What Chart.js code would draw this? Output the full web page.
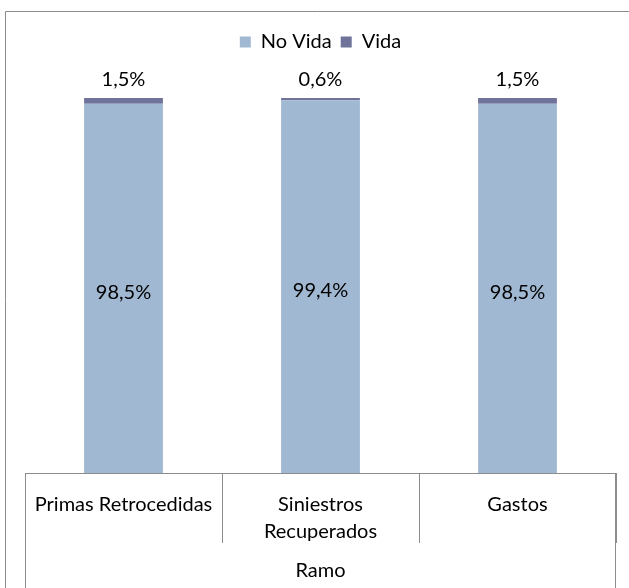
<!DOCTYPE html>
<html>
<head>
<meta charset="utf-8">
<script src="https://cdn.jsdelivr.net/npm/chart.js@4"></script>
<style>
  html, body { margin: 0; padding: 0; background: #fff; }
  #wrap { width: 629px; height: 588px; }
</style>
</head>
<body>
<div id="wrap"><canvas id="chart" width="629" height="588"></canvas></div>
<script>
const categories = [['Primas Retrocedidas'], ['Siniestros', 'Recuperados'], ['Gastos']];
const noVida = [98.5, 99.4, 98.5];
const vida = [1.5, 0.6, 1.5];
const axisTitle = 'Ramo';

const FONT = 'Lato';
const SIZE = 20;
const LINE = '#8c8c8c';

const fmt = (v) => v.toFixed(1).replace('.', ',') + '%';

// value labels: Vida above the bar, No Vida centred in its segment
const barLabels = {
  id: 'barLabels',
  afterDatasetsDraw(chart) {
    const ctx = chart.ctx;
    ctx.save();
    ctx.font = SIZE + 'px ' + FONT;
    ctx.fillStyle = '#000';
    ctx.textAlign = 'center';
    ctx.textBaseline = 'middle';
    chart.data.datasets.forEach((ds, di) => {
      const meta = chart.getDatasetMeta(di);
      meta.data.forEach((bar, i) => {
        const y = di === 1 ? bar.y - 18 : (bar.y + bar.base) / 2 + 4;
        ctx.fillText(fmt(ds.data[i]), bar.x, y);
      });
    });
    ctx.restore();
  }
};

// outer frame and the lower part of the category table
const frame = {
  id: 'frame',
  afterDraw(chart) {
    const ctx = chart.ctx;
    const x = chart.scales.x;
    ctx.save();
    ctx.strokeStyle = LINE;
    ctx.lineWidth = 1;
    ctx.beginPath();
    ctx.moveTo(5.5, chart.height + 2);
    ctx.lineTo(5.5, 11.5);
    ctx.lineTo(chart.width + 2, 11.5);
    ctx.moveTo(Math.round(x.left) + 0.5, x.top);
    ctx.lineTo(Math.round(x.left) + 0.5, chart.height);
    ctx.moveTo(Math.round(x.right) - 0.5, x.top);
    ctx.lineTo(Math.round(x.right) - 0.5, chart.height);
    ctx.stroke();
    ctx.restore();
  }
};

new Chart(document.getElementById('chart'), {
  type: 'bar',
  data: {
    labels: categories,
    datasets: [
      { label: 'No Vida', data: noVida, backgroundColor: '#a0b8d1', xAxisID: 'x', yAxisID: 'y' },
      { label: 'Vida', data: vida, backgroundColor: '#6f739a', xAxisID: 'x', yAxisID: 'y' }
    ]
  },
  options: {
    responsive: false,
    animation: false,
    layout: { padding: { left: 25, right: 13, top: 23, bottom: 0 } },
    datasets: { bar: { categoryPercentage: 1, barPercentage: 0.4 } },
    plugins: {
      tooltip: { enabled: false },
      legend: {
        position: 'top',
        labels: {
          font: { family: FONT, size: SIZE },
          color: '#000',
          boxWidth: 11,
          boxHeight: 11,
          padding: 9
        }
      }
    },
    scales: {
      x: {
        stacked: true,
        grid: {
          offset: true,
          drawOnChartArea: false,
          drawTicks: true,
          tickLength: 70,
          color: LINE
        },
        border: { display: true, color: LINE },
        ticks: {
          font: { family: FONT, size: SIZE, lineHeight: 1.35 },
          color: '#000',
          padding: -52,
          maxRotation: 0,
          autoSkip: false
        },
        title: {
          display: true,
          text: axisTitle,
          font: { family: FONT, size: SIZE },
          color: '#000',
          padding: { top: 0, bottom: 5 }
        },
        afterFit(scale) { scale.height = 115; }
      },
      y: {
        stacked: true,
        display: false,
        min: 0,
        max: 100
      },
      top: {
        type: 'category',
        position: 'top',
        grid: { display: false },
        border: { display: false },
        ticks: { display: false },
        afterFit(scale) { scale.height = 36; }
      }
    }
  },
  plugins: [barLabels, frame]
});
</script>
</body>
</html>
